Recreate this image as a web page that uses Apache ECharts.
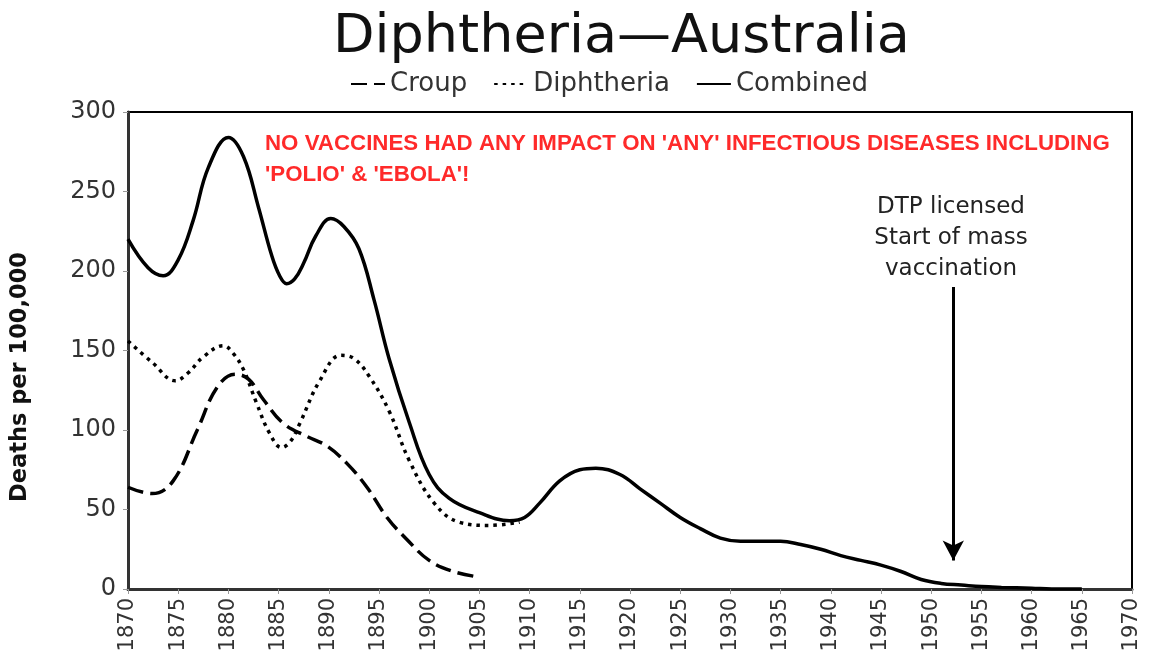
<!DOCTYPE html>
<html>
<head>
<meta charset="utf-8">
<script src="https://cdn.jsdelivr.net/npm/echarts@6/dist/echarts.min.js"></script>
<style>
  html, body { margin: 0; padding: 0; background: #fff; }
  #chart { width: 1149px; height: 655px; }
</style>
</head>
<body>
<div id="chart"></div>
<script>
// values (deaths per 100,000)
var croupYears  = [1870, 1872.4, 1874.5, 1876.9, 1878.9, 1880.7, 1882, 1883.5, 1885.5, 1887.8, 1889.8, 1891.8, 1893.8, 1895.8, 1897.8, 1900, 1902.4, 1905];
var croupValues = [64, 60, 68, 100, 127, 135, 132, 119, 104, 96, 90, 79, 64, 45, 31, 18, 11, 7.5];

var diphYears  = [1870, 1872.5, 1874.7, 1876, 1877.5, 1879.5, 1880.5, 1881.5, 1882.8, 1884.1, 1885.3, 1886.2, 1887.1, 1889.1, 1891.2, 1892.5, 1894, 1896, 1898, 1900.5, 1903, 1906, 1909];
var diphValues = [156, 142, 131, 136, 146, 153, 148, 138, 117, 98, 89, 93, 104, 131, 147, 145, 134, 112, 81, 54, 42, 40, 42];

var combYears  = [1870, 1872, 1873.5, 1875, 1876.5, 1878, 1880, 1881.5, 1883, 1884.3, 1885.1, 1885.8, 1886.6, 1887.5, 1888.7, 1890.2, 1891.5, 1893, 1894.5, 1896, 1898, 1900, 1902, 1905, 1908, 1909.5, 1911, 1913, 1915, 1916.6, 1919, 1921, 1923, 1925, 1927, 1929, 1931, 1933, 1935, 1937, 1939, 1941, 1943, 1945, 1947, 1949, 1951, 1953, 1955, 1957, 1960, 1962, 1965];
var combValues = [220, 202, 197, 207, 232, 265, 284, 272, 240, 210, 197, 192, 195, 205, 222, 233, 228, 214, 182, 145, 105, 72, 57, 48, 43, 45, 54, 68, 75, 76, 72, 63, 54, 45, 38, 32, 30, 30, 30, 28, 25, 21, 18, 15, 11, 6, 3.5, 2.5, 1.5, 1, 0.5, 0, 0];

var xTicks = { min: 1870, max: 1970, interval: 5 };
var yTicks = { min: 0, max: 300, interval: 50 };

var arrowYear = 1952.2, arrowTop = 190, arrowTip = 18;

function pairs(xs, ys) {
  return xs.map(function (x, i) { return [x, ys[i]]; });
}

var chart = echarts.init(document.getElementById('chart'));
chart.setOption({
  animation: false,
  backgroundColor: '#fff',
  title: {
    text: 'Diphtheria\u2014Australia',
    left: 328,
    top: 6,
    textStyle: { fontFamily: 'DejaVu Sans', fontSize: 54, fontWeight: 'normal', color: '#111' }
  },
  legend: {
    top: 66,
    left: 345,
    itemWidth: 34,
    itemHeight: 12,
    itemGap: 26,
    itemStyle: { opacity: 0 },
    textStyle: { fontFamily: 'DejaVu Sans', fontSize: 26, color: '#333' },
    data: ['Croup', 'Diphtheria', 'Combined']
  },
  grid: { left: 128, right: 17, top: 112, bottom: 66, show: true, borderColor: '#000', borderWidth: 2 },
  xAxis: {
    type: 'value',
    min: xTicks.min, max: xTicks.max, interval: xTicks.interval,
    axisLine: { lineStyle: { color: '#333', width: 3 } },
    axisTick: { show: true, length: 5, lineStyle: { color: '#999' } },
    splitLine: { show: false },
    axisLabel: {
      rotate: 90, fontFamily: 'DejaVu Sans', fontSize: 21, color: '#333', margin: 9,
      formatter: function (v) { return String(v); }
    }
  },
  yAxis: {
    type: 'value',
    min: yTicks.min, max: yTicks.max, interval: yTicks.interval,
    axisLine: { show: true, lineStyle: { color: '#333', width: 3 } },
    axisTick: { show: true, length: 5, lineStyle: { color: '#999' } },
    splitLine: { show: false },
    axisLabel: { fontFamily: 'DejaVu Sans', fontSize: 24, color: '#333', margin: 12 }
  },
  graphic: [
    {
      type: 'text', left: 9, top: 252, rotation: Math.PI / 2,
      style: { text: 'Deaths per 100,000', font: 'bold 22.5px "DejaVu Sans"', fill: '#111' }
    },
    {
      type: 'text', left: 265, top: 128,
      style: {
        text: "NO VACCINES HAD ANY IMPACT ON 'ANY' INFECTIOUS DISEASES INCLUDING\n'POLIO' & 'EBOLA'!",
        font: 'bold 22.3px "Liberation Sans Narrow", "Liberation Sans", sans-serif',
        fill: '#ff2a2a', lineHeight: 31
      }
    },
    {
      type: 'text', x: 951, y: 192,
      style: {
        text: 'DTP licensed\nStart of mass\nvaccination',
        font: '23px "DejaVu Sans"', fill: '#222', align: 'center', lineHeight: 31
      }
    }
  ],
  series: [
    {
      name: 'Croup', type: 'line', smooth: 0.4, symbol: 'none',
      data: pairs(croupYears, croupValues),
      lineStyle: { color: '#000', width: 3.5, type: [16, 7] },
      itemStyle: { color: '#000' }
    },
    {
      name: 'Diphtheria', type: 'line', smooth: 0.4, symbol: 'none',
      data: pairs(diphYears, diphValues),
      lineStyle: { color: '#000', width: 3.5, type: [3.5, 5] },
      itemStyle: { color: '#000' }
    },
    {
      name: 'Combined', type: 'line', smooth: 0.4, symbol: 'none',
      data: pairs(combYears, combValues),
      lineStyle: { color: '#000', width: 3.5 },
      itemStyle: { color: '#000' },
      markLine: {
        silent: true,
        symbol: ['none', 'arrow'],
        symbolSize: [16, 20],
        label: { show: false },
        lineStyle: { color: '#000', width: 3, type: 'solid' },
        data: [[{ coord: [arrowYear, arrowTop] }, { coord: [arrowYear, arrowTip] }]]
      }
    }
  ]
});
</script>
</body>
</html>
